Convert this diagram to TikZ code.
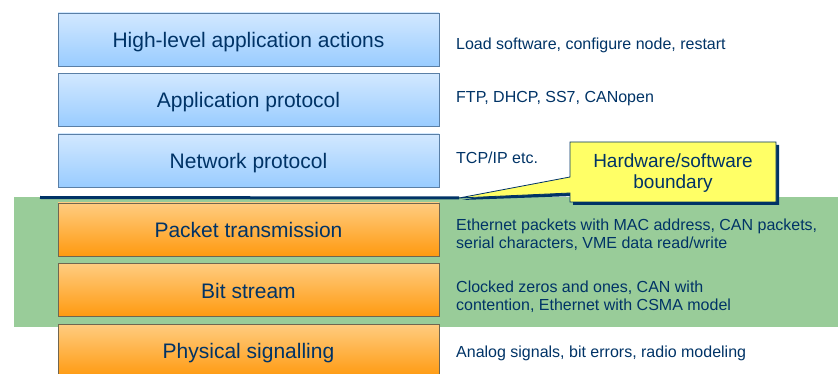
\documentclass[tikz,border=0pt]{standalone}
\usepackage{fontspec}
\setmainfont{Liberation Sans}
\usetikzlibrary{calc}
\definecolor{ink}{HTML}{003366}
\definecolor{bluetop}{HTML}{D2E8FF}
\definecolor{bluebot}{HTML}{99CCFF}
\definecolor{blueedge}{HTML}{5A7FA6}
\definecolor{orangetop}{HTML}{FFCC80}
\definecolor{orangebot}{HTML}{FF9A10}
\definecolor{orangeedge}{HTML}{706650}
\definecolor{hwgreen}{HTML}{99CC99}
\definecolor{note}{HTML}{FFFF66}
\tikzset{
  layer/.style={rectangle, minimum width=381pt, minimum height=53pt, inner sep=0pt,
    text height=16pt, text depth=0pt,
    line width=0.8pt, text=ink, font=\fontsize{21}{25}\selectfont},
  swlayer/.style={layer, draw=blueedge, top color=bluetop, bottom color=bluebot},
  hwlayer/.style={layer, draw=orangeedge, top color=orangetop, bottom color=orangebot},
  desc/.style={anchor=west, align=left, inner sep=0pt, text=ink,
    font=\fontsize{16}{18}\selectfont},
  notetext/.style={align=center, inner sep=0pt, text=ink,
    font=\fontsize{19}{21}\selectfont}
}
\begin{document}
\begin{tikzpicture}[x=1pt, y=-1pt]
  \useasboundingbox (0,0) rectangle (838,374);
  \clip (0,0) rectangle (838,374);

  % hardware region
  \fill[hwgreen] (14,197) rectangle (838,327);

  % protocol stack
  \node[swlayer] (hla)  at (248.5,39.5)  {High-level application actions};
  \node[swlayer] (app)  at (248.5,100)   {Application protocol};
  \node[swlayer] (net)  at (248.5,160.5) {Network protocol};
  \node[hwlayer] (pkt)  at (248.5,229.5) {Packet transmission};
  \node[hwlayer] (bit)  at (248.5,290)   {Bit stream};
  \node[hwlayer] (phy)  at (248.5,350.5) {Physical signalling};

  % examples for each layer
  \node[desc] (dhla) at (456,45)  {Load software, configure node, restart};
  \node[desc] (dapp) at (456,99)  {FTP, DHCP, SS7, CANopen};
  \node[desc] (dnet) at (456,158) {TCP/IP etc.};
  \node[desc] (dpkt) at (456,235) {Ethernet packets with MAC address, CAN packets,\\serial characters, VME data read/write};
  \node[desc] (dbit) at (456,297) {Clocked zeros and ones, CAN with\\contention, Ethernet with CSMA model};
  \node[desc] (dphy) at (456,353) {Analog signals, bit errors, radio modeling};

  % hardware/software boundary line
  \coordinate (bstart) at (40,197.5);
  \coordinate (tip) at (459,198);
  \draw[ink, line width=3pt] (bstart) -- (tip);

  % callout with shadow
  \fill[ink] ($(570,142)+(3,3)$) -- ++(206,0) -- ++(0,60) -- ++(-206,0) -- ++(0,-9)
     -- ($(tip)+(3,2)$) -- ($(570,177)+(3,3)$) -- cycle;
  \filldraw[fill=note, draw=ink, line width=0.8pt]
     (570,142) -- (776,142) -- (776,202) -- (570,202) -- (570,193)
     -- (tip) -- (570,177) -- cycle;
  \node[notetext] (hw) at (673,173) {Hardware/software\\boundary};
\end{tikzpicture}
\end{document}
